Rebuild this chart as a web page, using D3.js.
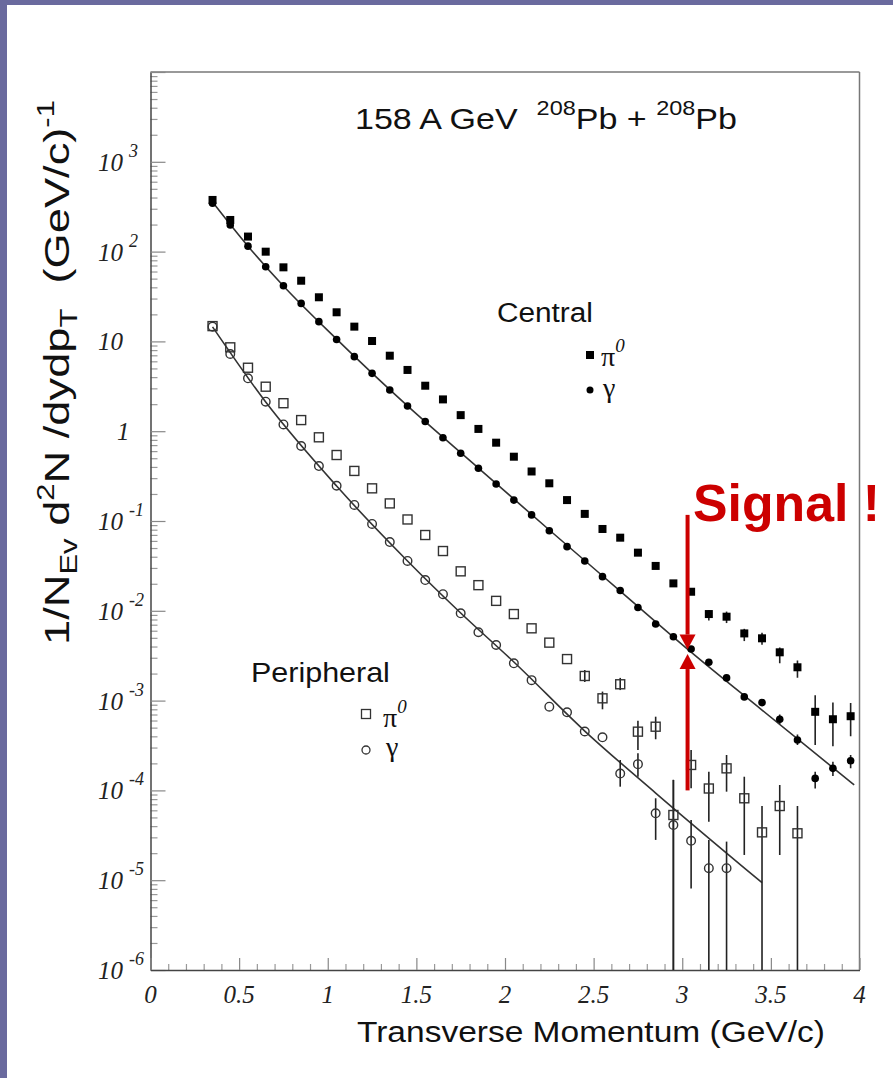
<!DOCTYPE html>
<html>
<head>
<meta charset="utf-8">
<script src="https://cdn.jsdelivr.net/npm/d3@7"></script>
<style>
  body { margin: 0; background: #fff; }
  text { white-space: pre; }
</style>
</head>
<body>
<div id="chart"></div>
<script>
// transverse momentum bins (GeV/c)
const ptCentral = [0.35, 0.45, 0.55, 0.65, 0.75, 0.85, 0.95, 1.05, 1.15, 1.25, 1.35, 1.45, 1.55,
  1.65, 1.75, 1.85, 1.95, 2.05, 2.15, 2.25, 2.35, 2.45, 2.55, 2.65, 2.75, 2.85, 2.95, 3.05,
  3.15, 3.25, 3.35, 3.45, 3.55, 3.65, 3.75, 3.85, 3.95];
const ptPeriphPi0 = [0.35, 0.45, 0.55, 0.65, 0.75, 0.85, 0.95, 1.05, 1.15, 1.25, 1.35, 1.45, 1.55,
  1.65, 1.75, 1.85, 1.95, 2.05, 2.15, 2.25, 2.35, 2.45, 2.55, 2.65, 2.75, 2.85, 2.95, 3.05,
  3.15, 3.25, 3.35, 3.45, 3.55, 3.65];
const ptPeriphGamma = [0.35, 0.45, 0.55, 0.65, 0.75, 0.85, 0.95, 1.05, 1.15, 1.25, 1.35, 1.45, 1.55,
  1.65, 1.75, 1.85, 1.95, 2.05, 2.15, 2.25, 2.35, 2.45, 2.55, 2.65, 2.75, 2.85, 2.95, 3.05,
  3.15, 3.25];

const centralPi0 = [376, 225, 147, 99.8, 66.8, 47.4, 31.0, 21.1, 14.6, 10.1, 6.93, 4.81, 3.21,
  2.26, 1.51, 1.06, 0.745, 0.52, 0.356, 0.263, 0.171, 0.12, 0.0815, 0.0652, 0.0444, 0.0316,
  0.0202, 0.0163, 0.0092, 0.0086, 0.0056, 0.00494, 0.00345, 0.00235, 0.00075, 0.00062, 0.00067];
const centralGamma = [345, 198, 115, 67.9, 41.7, 26.5, 16.6, 10.5, 6.76, 4.41, 2.88, 1.91, 1.28,
  0.847, 0.568, 0.386, 0.258, 0.171, 0.117, 0.078, 0.0518, 0.0359, 0.024, 0.0168, 0.0109,
  0.00713, 0.00515, 0.00376, 0.00267, 0.00179, 0.0011, 0.00095, 0.00062, 0.000364, 0.000136,
  0.000176, 0.000214];
const periphPi0 = [14.8, 8.59, 5.09, 3.13, 2.05, 1.33, 0.855, 0.543, 0.361, 0.231, 0.157, 0.104,
  0.0698, 0.0463, 0.0275, 0.0193, 0.0129, 0.0092, 0.00638, 0.00442, 0.0029, 0.00188, 0.00106,
  0.00152, 0.000451, 0.000512, 0.0000532, 0.000192, 0.000105, 0.000176, 0.0000817, 0.0000341,
  0.000067, 0.0000333];
const periphGamma = [14.6, 7.24, 3.88, 2.13, 1.19, 0.684, 0.409, 0.247, 0.151, 0.0927, 0.0583,
  0.0359, 0.022, 0.0153, 0.00938, 0.00577, 0.00416, 0.0026, 0.00169, 0.000855, 0.000741,
  0.000453, 0.00039, 0.000154, 0.000196, 0.0000556, 0.0000412, 0.0000275, 0.0000136, 0.0000136];

// error bars: [pT, low, high]  (1e-7 = runs off the bottom)
const centralPi0Err = [[3.15, 0.0078, 0.0102], [3.25, 0.0073, 0.0098], [3.35, 0.0046, 0.0063],
  [3.45, 0.0042, 0.0057], [3.55, 0.0026, 0.0039], [3.65, 0.0018, 0.0028],
  [3.75, 0.00032, 0.00115], [3.85, 0.00031, 0.00095], [3.95, 0.0004, 0.00094]];
const centralGammaErr = [[3.55, 0.00055, 0.0007], [3.65, 0.00032, 0.00042],
  [3.75, 0.000105, 0.000161], [3.85, 0.000145, 0.000209], [3.95, 0.000177, 0.000248]];
const periphPi0Err = [[2.45, 0.00161, 0.00219], [2.55, 0.0008, 0.00126], [2.65, 0.00131, 0.00179],
  [2.75, 0.000282, 0.000597], [2.85, 0.000371, 0.000662], [2.95, 1e-7, 0.000131],
  [3.05, 0.000106, 0.000282], [3.15, 0.0000448, 0.000161], [3.25, 0.0000968, 0.000248],
  [3.35, 0.0000191, 0.000142], [3.45, 1e-7, 0.000067], [3.55, 0.0000191, 0.000115],
  [3.65, 1e-7, 0.000067]];
const periphGammaErr = [[2.65, 0.00011, 0.000218], [2.75, 0.000142, 0.00026],
  [2.85, 0.0000281, 0.0000817], [2.95, 1e-7, 0.000131], [3.05, 0.0000081, 0.0000468],
  [3.15, 1e-7, 0.0000281], [3.25, 1e-7, 0.0000269]];

// fitted curves
const centralFitPt = [0.35, 0.55, 0.75, 1.05, 1.45, 1.85, 2.25, 2.65, 3.05, 3.45, 3.97];
const centralFit = [357, 115, 41.4, 10.6, 1.91, 0.389, 0.0794, 0.0166, 0.00347, 0.000785, 0.000115];
const periphFitPt = [0.35, 0.65, 1.05, 1.45, 1.75, 2.05, 2.45, 2.85, 3.45];
const periphFit = [14.5, 2.11, 0.245, 0.0359, 0.00946, 0.00269, 0.000458, 0.0000935, 0.00000938];

// "Signal !" arrows
const signalPt = 3.03;
const signalTop = 0.117, signalTipDown = 0.0037, signalTipUp = 0.0033, signalBottom = 0.0001;

const xTicks = [0, 0.5, 1, 1.5, 2, 2.5, 3, 3.5, 4];
const yExponents = [3, 2, 1, 0, -1, -2, -3, -4, -5, -6];

const W = 893, H = 1078;
const svg = d3.select("#chart").append("svg").attr("width", W).attr("height", H);
svg.append("rect").attr("width", W).attr("height", H).attr("fill", "#fff");
svg.append("rect").attr("width", W).attr("height", 5).attr("fill", "#6a6a9e");
svg.append("rect").attr("width", 7).attr("height", H).attr("fill", "#6a6a9e");

const x = d3.scaleLinear().domain([0, 4]).range([150.5, 859.5]);
const y = d3.scaleLog().domain([1e-6, 1e4]).range([970, 72]);

const sans = "'Liberation Sans', Arial, sans-serif";
const serif = "'Liberation Serif', 'Times New Roman', serif";

function fitWidth(t, x0, w) {
  const bw = t.node().getBBox().width;
  t.attr("transform", `translate(${x0},0) scale(${w / bw},1) translate(${-x0},0)`);
}

// frame
svg.append("line").attr("x1", x(0)).attr("x2", x(4)).attr("y1", 72).attr("y2", 72)
  .attr("stroke", "#777").attr("stroke-width", 1.5);
svg.append("line").attr("x1", x(4)).attr("x2", x(4)).attr("y1", 72).attr("y2", 970)
  .attr("stroke", "#777").attr("stroke-width", 1.5);

// y axis: minor then major ticks
const isDecade = v => Math.abs(Math.log10(v) - Math.round(Math.log10(v))) < 1e-6;
const yMinor = y.ticks(20).filter(v => !isDecade(v));
const yMajor = y.ticks(20).filter(isDecade);
svg.append("g").attr("transform", `translate(${x(0)},0)`)
  .call(d3.axisLeft(y).tickValues(yMinor).tickSizeInner(-7).tickSizeOuter(0).tickFormat(""))
  .call(g => g.select(".domain").remove())
  .call(g => g.selectAll(".tick line").attr("stroke", "#999").attr("stroke-width", 1.2));
svg.append("g").attr("transform", `translate(${x(0)},0)`)
  .call(d3.axisLeft(y).tickValues(yMajor).tickSizeInner(-15).tickSizeOuter(0).tickFormat(""))
  .call(g => g.select(".domain").attr("stroke", "#444").attr("stroke-width", 1.5))
  .call(g => g.selectAll(".tick line").attr("stroke", "#888").attr("stroke-width", 1.2));

// x axis
const xMinor = d3.range(0, 41).map(i => i / 10).filter(v => Math.abs(v * 2 - Math.round(v * 2)) > 1e-6);
svg.append("g").attr("transform", `translate(0,${y(1e-6)})`)
  .call(d3.axisBottom(x).tickValues(xMinor).tickSizeInner(-6).tickSizeOuter(0).tickFormat(""))
  .call(g => g.select(".domain").remove())
  .call(g => g.selectAll(".tick line").attr("stroke", "#999").attr("stroke-width", 1.2));
svg.append("g").attr("transform", `translate(0,${y(1e-6)})`)
  .call(d3.axisBottom(x).tickValues(xTicks).tickSizeInner(-12).tickSizeOuter(0).tickFormat(""))
  .call(g => g.select(".domain").attr("stroke", "#444").attr("stroke-width", 1.5))
  .call(g => g.selectAll(".tick line").attr("stroke", "#888").attr("stroke-width", 1.2));

// y tick labels
yExponents.forEach(e => {
  const yy = y(Math.pow(10, e));
  const t = svg.append("text").attr("font-family", serif).attr("font-style", "italic")
    .attr("font-size", 25).attr("fill", "#222").attr("y", yy + 9);
  if (e === 0) {
    t.attr("x", 117).text("1");
  } else {
    t.attr("x", 98).append("tspan").text("10");
    if (e !== 1) {
      t.append("tspan").attr("dx", 6).attr("dy", -14).attr("font-size", 18).text(String(e));
    }
  }
});

// x tick labels
svg.append("g").selectAll("text").data(xTicks).join("text")
  .attr("x", d => x(d)).attr("y", 1003)
  .attr("text-anchor", "middle")
  .attr("font-family", serif).attr("font-style", "italic").attr("font-size", 25).attr("fill", "#222")
  .text(d => String(d));

// axis titles
const xt = svg.append("text").attr("x", 357).attr("y", 1042)
  .attr("font-family", sans).attr("font-size", 30).attr("fill", "#111")
  .text("Transverse Momentum (GeV/c)");
fitWidth(xt, 357, 468);

const yg = svg.append("g").attr("transform", "translate(69,645) rotate(-90)");
const yt = yg.append("text").attr("x", 0).attr("y", 0)
  .attr("font-family", sans).attr("font-size", 35).attr("fill", "#111");
yt.append("tspan").text("1/N");
yt.append("tspan").attr("dy", 8).attr("font-size", 24).text("Ev");
yt.append("tspan").attr("dy", -8).text(" d");
yt.append("tspan").attr("dy", -15).attr("font-size", 24).text("2");
yt.append("tspan").attr("dy", 15).text("N /dydp");
yt.append("tspan").attr("dy", 8).attr("font-size", 24).text("T");
yt.append("tspan").attr("dy", -8).text("  (GeV/c)");
yt.append("tspan").attr("dy", -15).attr("font-size", 24).text("-1");
fitWidth(yt, 0, 545);

// title
const tt = svg.append("text").attr("x", 355).attr("y", 129)
  .attr("font-family", sans).attr("font-size", 29).attr("fill", "#111");
tt.append("tspan").text("158 A GeV  ");
tt.append("tspan").attr("dy", -14).attr("font-size", 20).text("208");
tt.append("tspan").attr("dy", 14).text("Pb + ");
tt.append("tspan").attr("dy", -14).attr("font-size", 20).text("208");
tt.append("tspan").attr("dy", 14).text("Pb");
fitWidth(tt, 355, 382);

// plot contents
svg.append("clipPath").attr("id", "plotclip").append("rect")
  .attr("x", x(0)).attr("y", 72).attr("width", x(4) - x(0)).attr("height", 970 - 72);
const plot = svg.append("g").attr("clip-path", "url(#plotclip)");

const line = d3.line().x(d => x(d[0])).y(d => y(d[1])).curve(d3.curveMonotoneX);
plot.append("path").attr("d", line(d3.zip(centralFitPt, centralFit)))
  .attr("fill", "none").attr("stroke", "#333").attr("stroke-width", 1.6);
plot.append("path").attr("d", line(d3.zip(periphFitPt, periphFit)))
  .attr("fill", "none").attr("stroke", "#333").attr("stroke-width", 1.6);

const errs = [].concat(centralPi0Err, centralGammaErr, periphPi0Err, periphGammaErr);
plot.append("g").selectAll("line").data(errs).join("line")
  .attr("x1", d => x(d[0])).attr("x2", d => x(d[0]))
  .attr("y1", d => Math.min(y(d[1]), 975)).attr("y2", d => y(d[2]))
  .attr("stroke", "#222").attr("stroke-width", 1.6);

plot.append("g").selectAll("rect").data(d3.zip(ptPeriphPi0, periphPi0)).join("rect")
  .attr("x", d => x(d[0]) - 4.5).attr("y", d => y(d[1]) - 4.5)
  .attr("width", 9).attr("height", 9)
  .attr("fill", "none").attr("stroke", "#333").attr("stroke-width", 1.4);
plot.append("g").selectAll("circle").data(d3.zip(ptPeriphGamma, periphGamma)).join("circle")
  .attr("cx", d => x(d[0])).attr("cy", d => y(d[1])).attr("r", 4.3)
  .attr("fill", "none").attr("stroke", "#333").attr("stroke-width", 1.4);
plot.append("g").selectAll("rect").data(d3.zip(ptCentral, centralPi0)).join("rect")
  .attr("x", d => x(d[0]) - 4).attr("y", d => y(d[1]) - 4)
  .attr("width", 8).attr("height", 8).attr("fill", "#000");
plot.append("g").selectAll("circle").data(d3.zip(ptCentral, centralGamma)).join("circle")
  .attr("cx", d => x(d[0])).attr("cy", d => y(d[1])).attr("r", 3.8).attr("fill", "#000");

// legends
const ct = svg.append("text").attr("x", 497).attr("y", 322)
  .attr("font-family", sans).attr("font-size", 27).attr("fill", "#111").text("Central");
fitWidth(ct, 497, 96);
svg.append("rect").attr("x", 586).attr("y", 351).attr("width", 8).attr("height", 8).attr("fill", "#000");
const cp = svg.append("text").attr("x", 601).attr("y", 366)
  .attr("font-family", serif).attr("font-size", 28).attr("fill", "#111");
cp.append("tspan").text("π");
cp.append("tspan").attr("dy", -14).attr("font-size", 19).attr("font-style", "italic").text("0");
svg.append("circle").attr("cx", 590).attr("cy", 390).attr("r", 3.5).attr("fill", "#000");
svg.append("text").attr("x", 603).attr("y", 397)
  .attr("font-family", serif).attr("font-size", 28).attr("fill", "#111").text("γ");

const pt = svg.append("text").attr("x", 251).attr("y", 682)
  .attr("font-family", sans).attr("font-size", 27).attr("fill", "#111").text("Peripheral");
fitWidth(pt, 251, 139);
svg.append("rect").attr("x", 361.5).attr("y", 709.5).attr("width", 9).attr("height", 9)
  .attr("fill", "none").attr("stroke", "#333").attr("stroke-width", 1.3);
const pp = svg.append("text").attr("x", 383).attr("y", 727)
  .attr("font-family", serif).attr("font-size", 28).attr("fill", "#111");
pp.append("tspan").text("π");
pp.append("tspan").attr("dy", -14).attr("font-size", 19).attr("font-style", "italic").text("0");
svg.append("circle").attr("cx", 366).attr("cy", 750).attr("r", 4)
  .attr("fill", "none").attr("stroke", "#333").attr("stroke-width", 1.3);
svg.append("text").attr("x", 386).attr("y", 756)
  .attr("font-family", serif).attr("font-size", 28).attr("fill", "#111").text("γ");

// signal annotation
const red = "#cc0000";
const sx = x(signalPt);
const headL = 15, headW = 8;
svg.append("line").attr("x1", sx).attr("x2", sx)
  .attr("y1", y(signalTop)).attr("y2", y(signalTipDown) - headL)
  .attr("stroke", red).attr("stroke-width", 4);
svg.append("path").attr("fill", red)
  .attr("d", `M${sx - headW},${y(signalTipDown) - headL}L${sx + headW},${y(signalTipDown) - headL}L${sx},${y(signalTipDown)}Z`);
svg.append("line").attr("x1", sx).attr("x2", sx)
  .attr("y1", y(signalBottom)).attr("y2", y(signalTipUp) + headL)
  .attr("stroke", red).attr("stroke-width", 4);
svg.append("path").attr("fill", red)
  .attr("d", `M${sx - headW},${y(signalTipUp) + headL}L${sx + headW},${y(signalTipUp) + headL}L${sx},${y(signalTipUp)}Z`);
const st = svg.append("text").attr("x", 693).attr("y", 521)
  .attr("font-family", sans).attr("font-weight", "bold").attr("font-size", 52)
  .attr("fill", red).text("Signal !");
fitWidth(st, 693, 187);
</script>
</body>
</html>
